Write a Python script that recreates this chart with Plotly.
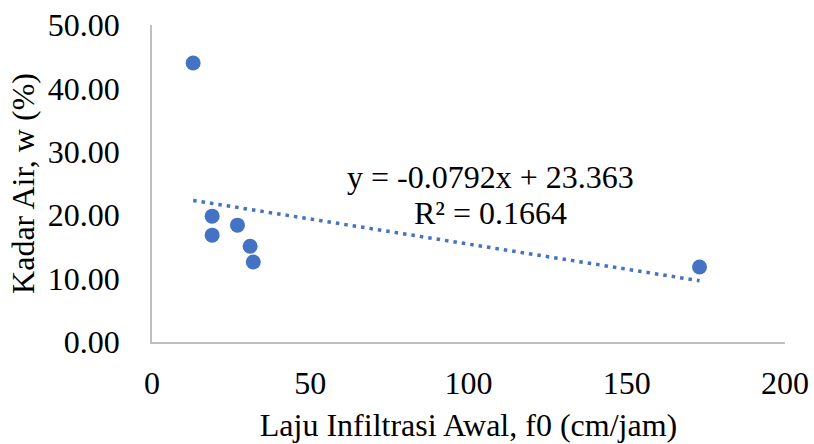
import plotly.graph_objects as go

# Data
laju_infiltrasi = [13, 19, 19, 27, 31, 32, 173]          # f0 (cm/jam)
kadar_air = [44.0, 19.85, 16.85, 18.43, 15.11, 12.63, 11.84]  # w (%)

slope = -0.0792
intercept = 23.363
r_squared = 0.1664

x_ticks = [0, 50, 100, 150, 200]
y_ticks = [0, 10, 20, 30, 40, 50]
y_tick_labels = ["0.00", "10.00", "20.00", "30.00", "40.00", "50.00"]

color = "#4472C4"
font_family = "Liberation Serif"
fsize = 32

trend_x = [min(laju_infiltrasi), max(laju_infiltrasi)]
trend_y = [slope * v + intercept for v in trend_x]

fig = go.Figure()
fig.add_trace(go.Scatter(
    x=trend_x, y=trend_y, mode="lines",
    line=dict(color=color, width=3.5, dash="3.5px,5px"),
    hoverinfo="skip", showlegend=False,
))
fig.add_trace(go.Scatter(
    x=laju_infiltrasi, y=kadar_air, mode="markers",
    marker=dict(color=color, size=15),
    showlegend=False,
))

fig.add_annotation(
    x=106.8, y=26.0, xref="x", yref="y",
    text=f"y = {slope}x + {intercept}",
    showarrow=False, align="center",
    font=dict(family=font_family, size=fsize, color="black"),
)
fig.add_annotation(
    x=106.8, y=20.3, xref="x", yref="y",
    text=f"R² = {r_squared}",
    showarrow=False, align="center",
    font=dict(family=font_family, size=fsize, color="black"),
)

fig.update_layout(
    width=814, height=444,
    margin=dict(l=152, r=29, t=25, b=102, autoexpand=False),
    paper_bgcolor="white", plot_bgcolor="white",
    font=dict(family=font_family, size=fsize, color="black"),
    xaxis=dict(
        range=[0, 200], tickvals=x_ticks, showgrid=False, zeroline=False,
        showline=True, linecolor="#BFBFBF", linewidth=1.5,
        ticks="", ticklabelstandoff=12, automargin=False,
        title=dict(text="Laju Infiltrasi Awal, f0 (cm/jam)", standoff=13,
                   font=dict(size=fsize)),
    ),
    yaxis=dict(
        range=[0, 50], tickvals=y_ticks, ticktext=y_tick_labels,
        showgrid=False, zeroline=False,
        showline=True, linecolor="#BFBFBF", linewidth=1.5,
        ticks="", ticklabelstandoff=24, automargin=False,
        title=dict(text="Kadar Air, w (%)", standoff=4, font=dict(size=fsize)),
    ),
)

fig.write_html(
    "out.html",
    config={"displayModeBar": False},
    post_script="document.body.style.margin='0';document.body.style.padding='0';",
)
